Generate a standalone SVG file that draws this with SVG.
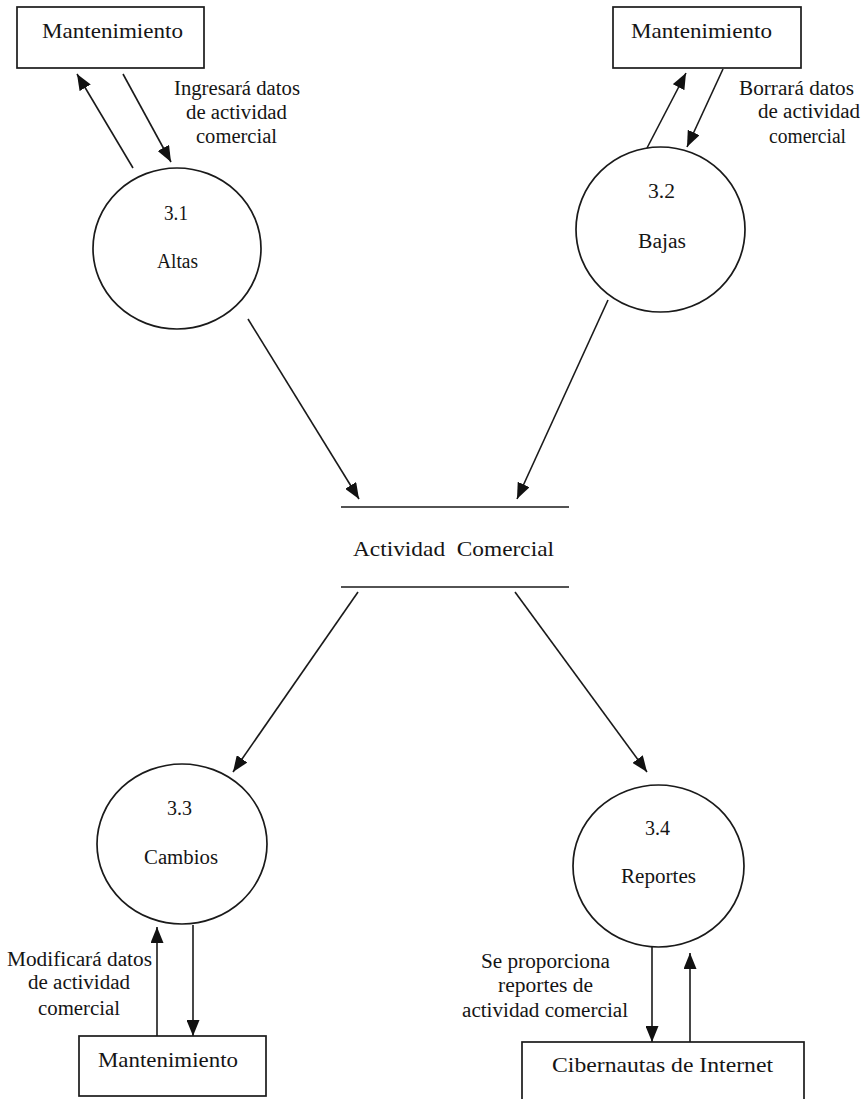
<svg xmlns="http://www.w3.org/2000/svg" width="867" height="1099" viewBox="0 0 867 1099">
<style>
  .box{fill:#fff;stroke:#1a1a1a;stroke-width:1.7}
  .proc{fill:#fff;stroke:#1a1a1a;stroke-width:1.7}
  .flow{stroke:#1a1a1a;stroke-width:1.6;fill:none;marker-end:url(#ah)}
  .store{stroke:#1a1a1a;stroke-width:1.7}
  text{font-family:"Liberation Serif","Times New Roman",serif;fill:#151515;font-size:20px}
  .big{font-size:21px}
</style>
<defs>
  <marker id="ah" markerUnits="userSpaceOnUse" markerWidth="17" markerHeight="13" refX="16" refY="6.5" orient="auto">
    <path d="M0,0 L16,6.5 L0,13 z" fill="#111"/>
  </marker>
</defs>
<rect width="867" height="1099" fill="#fff"/>

<g id="connectors">
  <line class="flow" x1="133" y1="168" x2="77" y2="74"/>
  <line class="flow" x1="123" y1="74" x2="171" y2="162"/>
  <line class="flow" x1="647" y1="148" x2="686" y2="73"/>
  <line class="flow" x1="723" y1="69" x2="687" y2="147"/>
  <line class="flow" x1="248" y1="319" x2="359" y2="499"/>
  <line class="flow" x1="608" y1="300" x2="517" y2="499"/>
  <line class="flow" x1="358" y1="592" x2="233" y2="772"/>
  <line class="flow" x1="515" y1="592" x2="647" y2="772"/>
  <line class="flow" x1="157" y1="1036" x2="157" y2="927"/>
  <line class="flow" x1="193" y1="925" x2="193" y2="1036"/>
  <line class="flow" x1="652" y1="947" x2="652" y2="1042"/>
  <line class="flow" x1="690" y1="1042" x2="690" y2="953"/>
  <g id="label-altas">
    <text x="174" y="95" textLength="126" lengthAdjust="spacingAndGlyphs">Ingresará datos</text>
    <text x="186" y="119" textLength="101" lengthAdjust="spacingAndGlyphs">de actividad</text>
    <text x="196" y="143" textLength="81" lengthAdjust="spacingAndGlyphs">comercial</text>
  </g>
  <g id="label-bajas">
    <text x="739" y="95" textLength="115" lengthAdjust="spacingAndGlyphs">Borrará datos</text>
    <text x="758" y="118" textLength="102" lengthAdjust="spacingAndGlyphs">de actividad</text>
    <text x="769" y="143" textLength="77" lengthAdjust="spacingAndGlyphs">comercial</text>
  </g>
  <g id="label-cambios">
    <text x="7" y="966" textLength="145" lengthAdjust="spacingAndGlyphs">Modificará datos</text>
    <text x="28" y="989" textLength="102" lengthAdjust="spacingAndGlyphs">de actividad</text>
    <text x="38" y="1015" textLength="82" lengthAdjust="spacingAndGlyphs">comercial</text>
  </g>
  <g id="label-reportes">
    <text x="481" y="968" textLength="129" lengthAdjust="spacingAndGlyphs">Se proporciona</text>
    <text x="498" y="992" textLength="95" lengthAdjust="spacingAndGlyphs">reportes de</text>
    <text x="462" y="1017" textLength="166" lengthAdjust="spacingAndGlyphs">actividad comercial</text>
  </g>
</g>

<g id="ent-mant-1">
  <rect class="box" x="17" y="7" width="187" height="61"/>
  <text class="big" x="42" y="38" textLength="141" lengthAdjust="spacingAndGlyphs">Mantenimiento</text>
</g>
<g id="ent-mant-2">
  <rect class="box" x="613" y="7" width="188" height="61"/>
  <text class="big" x="631" y="38" textLength="141" lengthAdjust="spacingAndGlyphs">Mantenimiento</text>
</g>
<g id="ent-mant-3">
  <rect class="box" x="79" y="1036" width="187" height="60"/>
  <text class="big" x="98" y="1067" textLength="140" lengthAdjust="spacingAndGlyphs">Mantenimiento</text>
</g>
<g id="ent-cibernautas">
  <rect class="box" x="522" y="1042" width="282" height="62"/>
  <text class="big" x="552" y="1072" textLength="221" lengthAdjust="spacingAndGlyphs">Cibernautas de Internet</text>
</g>

<g id="proc-3-1">
  <ellipse class="proc" cx="177" cy="248.5" rx="84" ry="80.5"/>
  <text x="164" y="220" textLength="24" lengthAdjust="spacingAndGlyphs">3.1</text>
  <text x="157" y="268" textLength="41" lengthAdjust="spacingAndGlyphs">Altas</text>
</g>
<g id="proc-3-2">
  <ellipse class="proc" cx="660.5" cy="229.5" rx="84.5" ry="82.5"/>
  <text x="648" y="198" textLength="27" lengthAdjust="spacingAndGlyphs">3.2</text>
  <text x="638" y="248" textLength="48" lengthAdjust="spacingAndGlyphs">Bajas</text>
</g>
<g id="proc-3-3">
  <ellipse class="proc" cx="182" cy="844" rx="85" ry="80"/>
  <text x="167" y="815" textLength="25" lengthAdjust="spacingAndGlyphs">3.3</text>
  <text x="144" y="864" textLength="74" lengthAdjust="spacingAndGlyphs">Cambios</text>
</g>
<g id="proc-3-4">
  <ellipse class="proc" cx="658.5" cy="866" rx="85.5" ry="81"/>
  <text x="645" y="835" textLength="25" lengthAdjust="spacingAndGlyphs">3.4</text>
  <text x="621" y="883" textLength="75" lengthAdjust="spacingAndGlyphs">Reportes</text>
</g>

<g id="store-actividad">
  <line class="store" x1="341" y1="507" x2="569" y2="507"/>
  <line class="store" x1="341" y1="587" x2="569" y2="587"/>
  <text class="big" x="353" y="556" textLength="201" lengthAdjust="spacingAndGlyphs">Actividad&#160; Comercial</text>
</g>
</svg>
